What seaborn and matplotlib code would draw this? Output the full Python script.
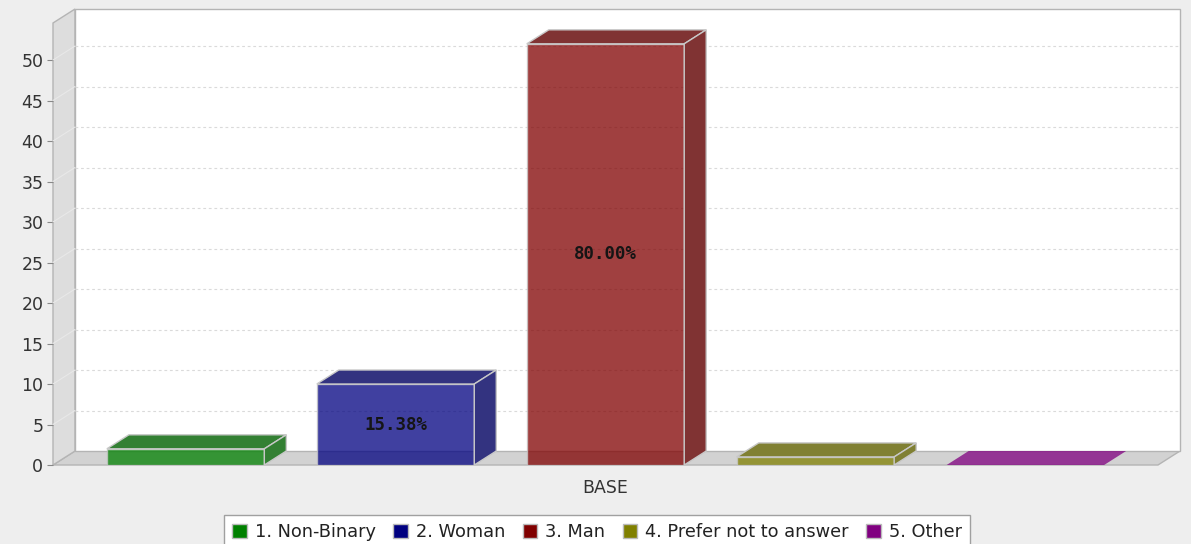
import pandas as pd
import matplotlib.pyplot as plt
import seaborn as sns
from matplotlib.patches import Polygon, Patch
from matplotlib.colors import to_rgb

# data
categories = ["1. Non-Binary", "2. Woman", "3. Man", "4. Prefer not to answer", "5. Other"]
counts = [2, 10, 52, 1, 0]
group_label = "BASE"
colors = ["#008000", "#000080", "#800000", "#808000", "#800080"]
y_ticks = list(range(0, 55, 5))

df = pd.DataFrame({"group": group_label, "answer": categories, "count": counts})
total = sum(counts)

sns.set_style("white")
plt.rcParams["font.family"] = ["DejaVu Sans"]

W, H = 1191, 544
fig = plt.figure(figsize=(W / 100, H / 100), dpi=100, facecolor="#EEEEEE")
ax = fig.add_axes([53 / W, 79 / H, 1105 / W, 442 / H])
ax.patch.set_visible(False)

sns.barplot(data=df, x="group", y="count", hue="answer", palette=colors,
            width=0.95, gap=0.25, saturation=1, alpha=0.75,
            edgecolor="#C8C8C8", linewidth=1, legend=False, ax=ax, zorder=3)
bars = list(ax.patches)

xlim = (-0.5, 0.5)
ylim = (0, 54.57)
ax.set_xlim(xlim)
ax.set_ylim(ylim)

# depth of the 3d effect
dxa, dya = 22 / 1105, 14 / 442
dx = dxa * (xlim[1] - xlim[0])
dy = dya * (ylim[1] - ylim[0])

# walls and floor
edge = "#B4B4B4"
ax.add_patch(Polygon([(0, 0), (1, 0), (1 + dxa, dya), (dxa, dya)], closed=True,
                     transform=ax.transAxes, fc="#D2D2D2", ec=edge, lw=1, clip_on=False, zorder=0))
ax.add_patch(Polygon([(0, 0), (dxa, dya), (dxa, 1 + dya), (0, 1)], closed=True,
                     transform=ax.transAxes, fc="#DDDDDD", ec=edge, lw=1, clip_on=False, zorder=0))
ax.add_patch(Polygon([(dxa, dya), (1 + dxa, dya), (1 + dxa, 1 + dya), (dxa, 1 + dya)], closed=True,
                     transform=ax.transAxes, fc="white", ec=edge, lw=1, clip_on=False, zorder=0))

# gridlines on the back wall and diagonals on the side wall
for v in y_ticks[1:]:
    ax.plot([xlim[0] + dx, xlim[1] + dx], [v + dy, v + dy], color="#DADADA",
            lw=0.8, ls=(0, (2.5, 2.5)), zorder=1, clip_on=False)
    ax.plot([xlim[0], xlim[0] + dx], [v, v + dy], color="#E8E8E8",
            lw=0.8, zorder=1, clip_on=False)

# top and side faces of the bars
for p, c in zip(bars, colors):
    x0, w, h = p.get_x(), p.get_width(), p.get_height()
    base = [0.75 * a + 0.25 for a in to_rgb(c)]
    dark = [0.8 * a for a in base]
    if h > 0:
        ax.add_patch(Polygon([(x0, h), (x0 + w, h), (x0 + w + dx, h + dy), (x0 + dx, h + dy)],
                             closed=True, fc=dark, ec="#C8C8C8", lw=1, zorder=3, clip_on=False))
        ax.add_patch(Polygon([(x0 + w, 0), (x0 + w + dx, dy), (x0 + w + dx, h + dy), (x0 + w, h)],
                             closed=True, fc=dark, ec="#C8C8C8", lw=1, zorder=3, clip_on=False))
    else:
        # a zero bar is only its flat top lying on the floor
        ax.add_patch(Polygon([(x0, 0), (x0 + w, 0), (x0 + w + dx, dy), (x0 + dx, dy)],
                             closed=True, fc=c, alpha=0.75, ec="none", zorder=3, clip_on=False))
    if h / ylim[1] > 0.1:
        ax.text(x0 + w / 2, h / 2, f"{100 * h / total:.2f}%", ha="center", va="center",
                fontfamily="DejaVu Sans Mono", fontweight="bold", fontsize=12.5,
                color="#151515", zorder=5)

for s in ax.spines.values():
    s.set_visible(False)
ax.set_yticks(y_ticks)
ax.tick_params(axis="y", length=4, width=0.8, color="#888888", labelsize=12.5,
               labelcolor="#333333", pad=3, left=True)
ax.tick_params(axis="x", length=0, labelsize=12.5, labelcolor="#333333", pad=10)
ax.set_xlabel("")
ax.set_ylabel("")

handles = [Patch(facecolor=c, edgecolor="#BBBBBB") for c in colors]
fig.legend(handles, categories, loc="upper center", bbox_to_anchor=(597 / W, 1 - 515 / H),
           ncol=5, frameon=True, fancybox=False, edgecolor="#A0A0A0", facecolor="white",
           framealpha=1, fontsize=12.8, handlelength=0.8, handleheight=0.8,
           handletextpad=0.45, columnspacing=1.0, borderpad=0.45, borderaxespad=0,
           labelcolor="#222222")

fig.savefig("out.png", dpi=100, facecolor=fig.get_facecolor())
